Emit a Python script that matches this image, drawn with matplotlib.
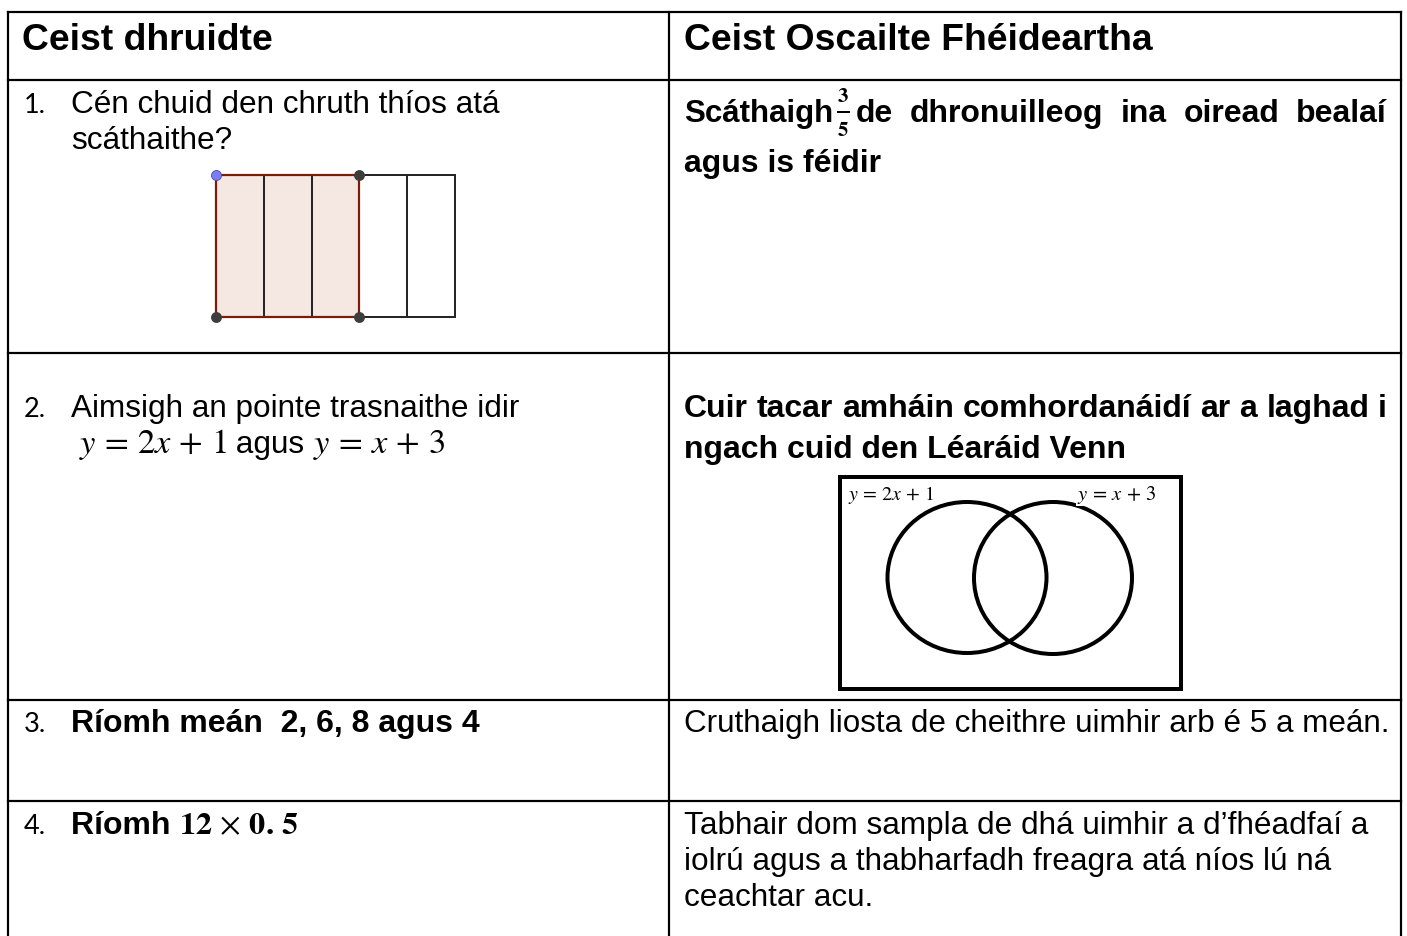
import matplotlib
matplotlib.use("Agg")
import matplotlib.pyplot as plt
from matplotlib.patches import Rectangle, Ellipse

plt.rcParams["mathtext.fontset"] = "stix"

# ---------------- data ----------------
headers = ["Ceist dhruidte", "Ceist Oscailte Fhéideartha"]
item_numbers = ["1.", "2.", "3.", "4."]

q1_lines = ["Cén chuid den chruth thíos atá", "scáthaithe?"]
q1_open_first = "Scáthaigh"
q1_fraction = (3, 5)
q1_open_rest = "de dhronuilleog ina oiread bealaí"
q1_open_line2 = "agus is féidir"
shape_parts = 5          # rectangle divided into 5 equal parts
shape_shaded = 3         # 3 of them shaded

q2_line1 = "Aimsigh an pointe trasnaithe idir"
q2_line2_runs = [r"$y\,=\,2x\,+\,1$", " agus ", r"$y\,=\,x\,+\,3$"]
q2_open_lines = ["Cuir tacar amháin comhordanáidí ar a laghad i",
                 "ngach cuid den Léaráid Venn"]
venn_labels = [r"$y\,=\,2x\,+\,1$", r"$y\,=\,x\,+\,3$"]

q3_text = "Ríomh meán  2, 6, 8 agus 4"
q3_open = "Cruthaigh liosta de cheithre uimhir arb é 5 a meán."

q4_runs = ["Ríomh ", r"$\mathbf{12}\,\times\,\mathbf{0.\,5}$"]
q4_open_lines = ["Tabhair dom sampla de dhá uimhir a d’fhéadfaí a",
                 "iolrú agus a thabharfadh freagra atá níos lú ná",
                 "ceachtar acu."]

# ---------------- layout (pixels) ----------------
W, H, DPI = 1407, 937, 100
X_LEFT, X_MID, X_RIGHT = 7.5, 669, 1401
ROW_LINES = [13, 81, 354, 701, 802]
FONT = "Liberation Sans"
BODY = 22.7
BOLD_R = 23.0
HEAD = 26.8
MATH = 23.2
MATH2 = 24.8


def pt(px):
    return px * 72.0 / DPI


fig = plt.figure(figsize=(W / DPI, H / DPI), dpi=DPI)
fig.patch.set_facecolor("white")
ax = fig.add_axes([0, 0, 1, 1])
ax.set_xlim(0, W)
ax.set_ylim(H, 0)
ax.axis("off")
renderer = fig.canvas.get_renderer()


def txt(x, y, s, size=BODY, weight="normal", family=FONT, **kw):
    kw.setdefault("va", "baseline")
    kw.setdefault("ha", "left")
    return ax.text(x, y, s, fontsize=size, fontweight=weight, family=family,
                   color="black", **kw)


def width(t):
    return t.get_window_extent(renderer).width


def runs(x, y, pieces, sizes, **kw):
    for p, s in zip(pieces, sizes):
        t = txt(x, y, p, size=s, **kw)
        x += width(t)
    return x


def justify(x0, x1, y, line, **kw):
    words = line.split()
    ts = [txt(0, y, w, **kw) for w in words]
    ws = [width(t) for t in ts]
    gap = (x1 - x0 - sum(ws)) / (len(words) - 1)
    x = x0
    for t, w in zip(ts, ws):
        t.set_x(x)
        x += w + gap


# ---------------- table grid ----------------
grid_lw = pt(2.2)
for y in ROW_LINES:
    ax.plot([X_LEFT, X_RIGHT], [y, y], color="black", lw=grid_lw,
            solid_capstyle="projecting")
for x in (X_LEFT, X_MID, X_RIGHT):
    ax.plot([x, x], [ROW_LINES[0], H + 5], color="black", lw=grid_lw,
            solid_capstyle="projecting")

# ---------------- headers ----------------
txt(22, 50, headers[0], size=HEAD, weight="bold")
txt(684, 50, headers[1], size=HEAD, weight="bold")

# ---------------- item numbers ----------------
NUM_SIZE = 19.5
for num, yb in zip(item_numbers, [113, 417, 732, 834]):
    txt(24, yb, num, size=NUM_SIZE, family=["Lato", "DejaVu Sans"])

# ---------------- row 1 ----------------
txt(71, 113, q1_lines[0])
txt(71, 149, q1_lines[1])

sx, sy, sw, sh = 216, 176, 239, 142
pw = sw / shape_parts
ax.add_patch(Rectangle((sx, sy), pw * shape_shaded, sh, facecolor="#f5e7e2",
                       edgecolor="none", zorder=2))
for i in range(shape_parts + 1):
    ax.plot([sx + i * pw, sx + i * pw], [sy, sy + sh], color="#262626",
            lw=pt(2), zorder=3)
ax.plot([sx, sx + sw], [sy, sy], color="#262626", lw=pt(2), zorder=3)
ax.plot([sx, sx + sw], [sy + sh, sy + sh], color="#262626", lw=pt(2), zorder=3)
ax.add_patch(Rectangle((sx, sy), pw * shape_shaded, sh, facecolor="none",
                       edgecolor="#7a1e0a", lw=pt(2.2), zorder=4))
ax.plot([sx + pw * shape_shaded, sx, sx + pw * shape_shaded],
        [sy, sy + sh, sy + sh], "o", color="#3d3d3d", ms=pt(9.5), zorder=5)
ax.plot([sx], [sy], "o", color="#7c7cf6", mec="#4a4ab0", mew=0.6,
        ms=pt(10), zorder=5)

txt(684, 122, q1_open_first, size=22.5, weight="bold")
# fraction 3/5
fx = 843
txt(fx, 96, r"$\mathbf{%d}$" % q1_fraction[0], size=15, ha="center",
    va="center")
txt(fx, 130, r"$\mathbf{%d}$" % q1_fraction[1], size=15, ha="center",
    va="center")
ax.plot([fx - 5.5, fx + 5.5], [113, 113], color="black", lw=pt(2))
justify(856, 1387, 122, q1_open_rest, size=BOLD_R, weight="bold")
txt(684, 172, q1_open_line2, size=BOLD_R, weight="bold")

# ---------------- row 2 ----------------
txt(71, 417, q2_line1)
runs(79, 453, q2_line2_runs, [MATH2, BODY, MATH2])
justify(684, 1387, 417, q2_open_lines[0], size=BOLD_R, weight="bold")
txt(684, 458, q2_open_lines[1], size=BOLD_R, weight="bold")

# Venn diagram
ax.add_patch(Rectangle((840, 478), 341, 212, facecolor="none",
                       edgecolor="black", lw=pt(4), zorder=2))
ax.add_patch(Ellipse((967, 578.5), 159, 151, facecolor="none",
                     edgecolor="black", lw=pt(4), zorder=2))
ax.add_patch(Ellipse((1053, 579), 158, 152, facecolor="none",
                     edgecolor="black", lw=pt(4), zorder=2))
ax.text(848, 500, venn_labels[0], fontsize=14.3, va="baseline", ha="left",
        zorder=4)
ax.text(1077, 500, venn_labels[1], fontsize=14.8, va="baseline", ha="left",
        zorder=4, bbox=dict(facecolor="white", edgecolor="none", pad=0.5))

# ---------------- row 3 ----------------
txt(71, 732, q3_text, size=BOLD_R, weight="bold")
txt(684, 732, q3_open, size=22.6)

# ---------------- row 4 ----------------
runs(71, 834, q4_runs, [BOLD_R, MATH], weight="bold")
for i, line in enumerate(q4_open_lines):
    txt(684, 834 + 36 * i, line)

fig.savefig("out.png", dpi=DPI, facecolor="white")
